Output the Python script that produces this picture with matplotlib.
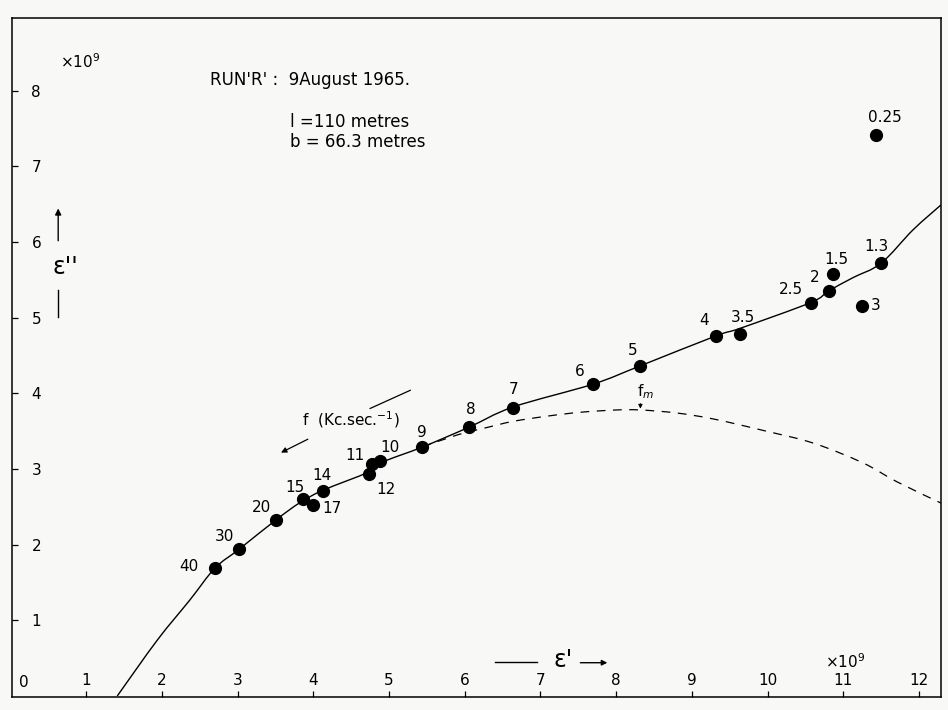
import matplotlib.pyplot as plt
from matplotlib.path import Path
from matplotlib.patches import PathPatch

# measured points, labelled with the frequency f (Kc/s)
freq_labels = ['40', '30', '20', '15', '17', '14', '12', '11', '10', '9', '8',
               '7', '6', '5', '4', '3.5', '2.5', '2', '1.5', '3', '1.3', '0.25']
eps1 = [2.70, 3.02, 3.51, 3.87, 3.99, 4.13, 4.73, 4.77, 4.88, 5.44, 6.05,
        6.64, 7.69, 8.31, 9.32, 9.63, 10.57, 10.81, 10.86, 11.24, 11.50, 11.43]
eps2 = [1.69, 1.94, 2.33, 2.60, 2.53, 2.71, 2.94, 3.07, 3.10, 3.29, 3.55,
        3.81, 4.12, 4.36, 4.76, 4.79, 5.20, 5.35, 5.58, 5.16, 5.72, 7.42]

# hand-fitted curve through the points
curve_x = [1.41, 1.94, 2.37, 2.70, 3.02, 3.51, 3.83, 4.13, 4.73, 4.91, 5.44, 6.05,
           6.64, 7.69, 8.31, 9.32, 9.64, 10.57, 10.80, 11.13, 11.50, 11.92, 12.29]
curve_y = [0.00, 0.74, 1.27, 1.69, 1.94, 2.33, 2.56, 2.72, 2.96, 3.09, 3.29, 3.55,
           3.82, 4.12, 4.36, 4.76, 4.86, 5.20, 5.35, 5.53, 5.72, 6.16, 6.49]

# dashed branch with its maximum at f_m
dash_x = [5.44, 5.90, 6.30, 6.64, 7.10, 7.53, 8.00, 8.32, 8.80, 9.29, 9.94, 10.61, 11.26, 11.71, 12.29]
dash_y = [3.29, 3.45, 3.55, 3.63, 3.70, 3.75, 3.78, 3.78, 3.74, 3.66, 3.51, 3.34, 3.08, 2.83, 2.55]
fm_x, fm_y = 8.32, 3.78

x_ticks = list(range(1, 13))
y_ticks = list(range(1, 9))

# label offsets (pixels) from each point
label_offsets = [(-26, 2), (-15, 13), (-15, 12), (-9, 12), (19, -4), (-1, 15), (17, -16),
                 (-17, 8), (10, 14), (0, 15), (2, 18), (0, 18), (-13, 13), (-7, 16),
                 (-12, 15), (3, 16), (-20, 13), (-14, 14), (4, 14), (14, 0), (-5, 17), (9, 17)]


def smooth_path(xs, ys):
    # cubic Bezier segments through every point (Catmull-Rom tangents)
    pts = list(zip(xs, ys))
    n = len(pts)
    verts = [pts[0]]
    codes = [Path.MOVETO]
    for i in range(n - 1):
        p0 = pts[max(i - 1, 0)]
        p1 = pts[i]
        p2 = pts[i + 1]
        p3 = pts[min(i + 2, n - 1)]
        c1 = (p1[0] + (p2[0] - p0[0]) / 6, p1[1] + (p2[1] - p0[1]) / 6)
        c2 = (p2[0] - (p3[0] - p1[0]) / 6, p2[1] - (p3[1] - p1[1]) / 6)
        verts += [c1, c2, p2]
        codes += [Path.CURVE4] * 3
    return Path(verts, codes)


plt.rcParams['font.family'] = ['DejaVu Sans']
bg = '#f8f9f7'
fs = 11

fig = plt.figure(figsize=(9.48, 7.1), dpi=100, facecolor=bg)
ax = fig.add_axes([12 / 948, 13 / 710, 929 / 948, 679 / 710], facecolor=bg)
ax.set_xlim(0.02, 12.29)
ax.set_ylim(-0.013, 8.96)

ax.add_patch(PathPatch(smooth_path(curve_x, curve_y), facecolor='none', edgecolor='black', linewidth=1.0))
ax.add_patch(PathPatch(smooth_path(dash_x, dash_y), facecolor='none', edgecolor='black',
                       linewidth=0.9, linestyle=(0, (7, 6))))
ax.plot(eps1, eps2, 'o', color='black', markersize=8.5)

for lab, x, y, off in zip(freq_labels, eps1, eps2, label_offsets):
    ax.annotate(lab, (x, y), xytext=off, textcoords='offset pixels',
                ha='center', va='center', fontsize=fs)

# f_m marker on the dashed curve
ax.annotate('', xy=(fm_x, fm_y - 0.02), xytext=(fm_x, fm_y + 0.12),
            arrowprops=dict(arrowstyle='-|>', color='black', lw=0.7, mutation_scale=6))
ax.text(fm_x + 0.07, fm_y + 0.24, 'f$_m$', fontsize=fs, ha='center', va='center')

# direction of increasing frequency
ax.text(3.85, 3.65, 'f  (Kc.sec.$^{-1}$)', fontsize=fs, ha='left', va='center')
ax.plot([4.75, 5.28], [3.80, 4.04], color='black', linewidth=0.9)
ax.annotate('', xy=(3.54, 3.20), xytext=(3.96, 3.41),
            arrowprops=dict(arrowstyle='-|>', color='black', lw=0.9, mutation_scale=8))

# axis names
ax.text(0.72, 5.67, "ε''", fontsize=17, ha='center', va='center')
ax.annotate('', xy=(0.63, 6.48), xytext=(0.63, 5.98),
            arrowprops=dict(arrowstyle='-|>', color='black', lw=1.0, mutation_scale=9))
ax.plot([0.63, 0.63], [5.01, 5.36], color='black', linewidth=1.0)

ax.plot([6.40, 6.96], [0.45, 0.45], color='black', linewidth=1.0)
ax.text(7.30, 0.47, "ε'", fontsize=17, ha='center', va='center')
ax.annotate('', xy=(7.92, 0.44), xytext=(7.49, 0.44),
            arrowprops=dict(arrowstyle='-|>', color='black', lw=1.0, mutation_scale=8))

ax.text(0.66, 8.38, '×10$^{9}$', fontsize=fs, ha='left', va='center')
ax.text(10.76, 0.45, '×10$^{9}$', fontsize=fs, ha='left', va='center')

ax.text(2.64, 8.14, "RUN'R' :  9August 1965.", fontsize=12, ha='left', va='center')
ax.text(3.69, 7.58, 'l =110 metres', fontsize=12, ha='left', va='center')
ax.text(3.69, 7.32, 'b = 66.3 metres', fontsize=12, ha='left', va='center')

# ticks and labels sit inside the frame
ax.set_xticks(x_ticks)
ax.set_yticks(y_ticks)
ax.tick_params(axis='x', direction='in', length=4, width=0.9, pad=-17, labelsize=fs)
ax.tick_params(axis='y', direction='in', length=4, width=0.9, pad=-14, labelsize=fs)
for t in ax.get_yticklabels():
    t.set_horizontalalignment('left')
ax.text(0.17, 0.18, '0', fontsize=fs, ha='center', va='center')

for s in ax.spines.values():
    s.set_linewidth(1.1)

fig.savefig('out.png', dpi=100, facecolor=bg)
